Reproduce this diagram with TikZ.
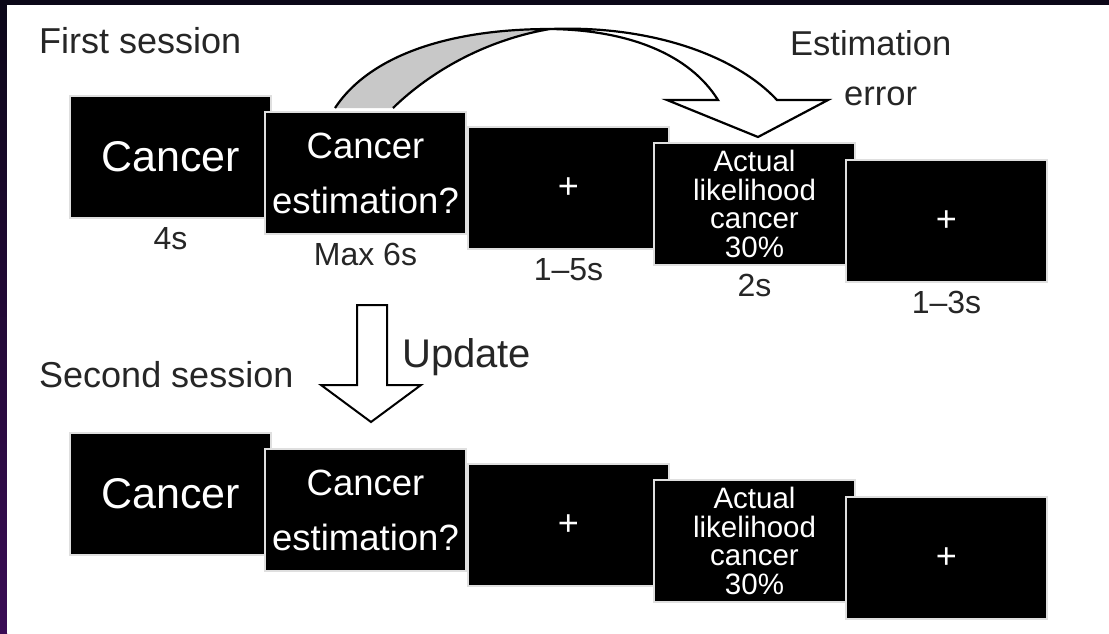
\documentclass[tikz,border=0pt]{standalone}
\usepackage{fontspec}
\setmainfont{Liberation Sans}
\usetikzlibrary{positioning}
\definecolor{frametop}{HTML}{0B0718}
\definecolor{framebot}{HTML}{3A0C55}
\definecolor{ribbon}{HTML}{C8C8C8}

\begin{document}
\begin{tikzpicture}[x=1pt, y=-1pt,
    scr/.style={rectangle, fill=black, draw=gray!25, line width=1.2pt, outer sep=0pt, inner sep=0pt, minimum width=201pt, minimum height=122pt, text=white, align=center},
    big/.style={font=\fontsize{43}{48}\selectfont},
    two/.style={font=\fontsize{36.5}{55}\selectfont},
    four/.style={font=\fontsize{29.5}{28.5}\selectfont},
    fix/.style={font=\fontsize{36}{40}\selectfont},
    t/.style={font=\fontsize{32}{36}\selectfont, text=black!85},
    hd/.style={font=\fontsize{36}{40}\selectfont, text=black!85, inner sep=0pt},
    blk/.style={draw=black, line width=2.2pt, line join=miter}]

	% frame
	\useasboundingbox (0,0) rectangle (1109,633);
	\fill[frametop] (0,0) rectangle (1109,633);
	\fill[top color=frametop, bottom color=framebot] (0,0) rectangle (7,633);
	\fill[white] (7,5) rectangle (1109,633);

	% first session
	\node[hd, anchor=base west] (first) at (39,53) {First session};
	\node[scr, big, anchor=north west] (a1) at (70,96) {Cancer};
	\node[scr, two, below right=16pt and -6pt of a1.north east] (a2) {Cancer\\estimation?};
	\node[scr, fix, below right=15pt and 2pt of a2.north east] (a3) {+};
	\node[scr, four, below right=16pt and -15pt of a3.north east] (a4) {Actual\\likelihood\\cancer\\30\%};
	\node[scr, fix, below right=17pt and -9pt of a4.north east] (a5) {+};

	\node[t, below=6pt of a1] (a1_time) {4s};
	\node[t, below=6pt of a2] (a2_time) {Max 6s};
	\node[t, below=6pt of a3] (a3_time) {1--5s};
	\node[t, below=6pt of a4] (a4_time) {2s};
	\node[t, below=6pt of a5] (a5_time) {1--3s};

	% second session
	\node[hd, anchor=base west] (second) at (39,387) {Second session};
	\node[scr, big, below=215pt of a1] (b1) {Cancer};
	\node[scr, two, below right=16pt and -6pt of b1.north east] (b2) {Cancer\\estimation?};
	\node[scr, fix, below right=15pt and 2pt of b2.north east] (b3) {+};
	\node[scr, four, below right=16pt and -15pt of b3.north east] (b4) {Actual\\likelihood\\cancer\\30\%};
	\node[scr, fix, below right=17pt and -9pt of b4.north east] (b5) {+};

	% estimation error arrow
	\node[hd, font=\fontsize{34.5}{40}\selectfont, anchor=base west] (est) at (790,55) {Estimation};
	\node[hd, font=\fontsize{34.5}{40}\selectfont, anchor=base west] (err) at (844,105) {error};
	\coordinate (twist) at (550,29);
	\fill[ribbon] (335,108) .. controls (370,55) and (450,29) .. (twist)
		.. controls (485,40) and (430,72) .. (393,108) -- cycle;
	\draw[blk, fill=white] (twist) .. controls (650,25) and (735,55) .. (777,100)
		-- (828,100) -- (758,137) -- (667,100) -- (718,100)
		.. controls (690,55) and (630,30) .. (twist);
	\draw[blk] (335,108) .. controls (370,55) and (450,29) .. (twist)
		.. controls (485,40) and (430,72) .. (393,108);

	% update arrow
	\node[hd, font=\fontsize{40}{44}\selectfont, anchor=base west] (upd) at (402,367) {Update};
	\draw[blk, line width=2pt, fill=white] (357,305) -- (357,385) -- (321,385) -- (371,422)
		-- (421,385) -- (387,385) -- (387,305) -- cycle;
\end{tikzpicture}
\end{document}
